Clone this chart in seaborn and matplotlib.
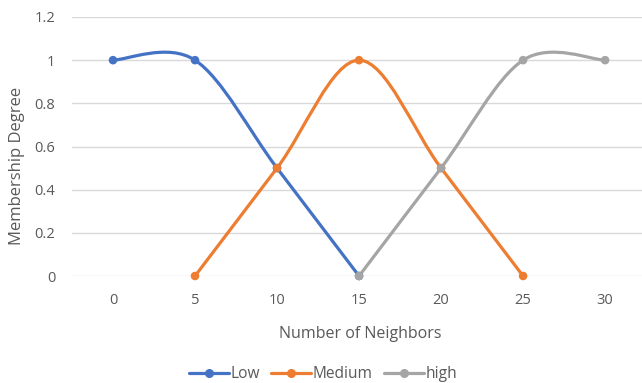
import numpy as np
import pandas as pd
import matplotlib
matplotlib.use("Agg")
import matplotlib.pyplot as plt
from matplotlib.path import Path
from matplotlib.patches import PathPatch
from matplotlib.lines import Line2D
import seaborn as sns

# ---- data ----
low_x = [0, 5, 10, 15]
low_y = [1, 1, 0.5, 0]
medium_x = [5, 10, 15, 20, 25]
medium_y = [0, 0.5, 1, 0.5, 0]
high_x = [15, 20, 25, 30]
high_y = [0, 0.5, 1, 1]
series_names = ["Low", "Medium", "high"]
x_ticks = [0, 5, 10, 15, 20, 25, 30]
y_ticks = [0, 0.2, 0.4, 0.6, 0.8, 1.0, 1.2]
y_tick_labels = ["0", "0.2", "0.4", "0.6", "0.8", "1", "1.2"]
colors = {"Low": "#4472C4", "Medium": "#ED7D31", "high": "#A5A5A5"}

df = pd.concat([
    pd.DataFrame({"x": low_x, "y": low_y, "series": "Low"}),
    pd.DataFrame({"x": medium_x, "y": medium_y, "series": "Medium"}),
    pd.DataFrame({"x": high_x, "y": high_y, "series": "high"}),
], ignore_index=True)

sns.set_theme(style="white")
plt.rcParams["font.family"] = ["Open Sans", "DejaVu Sans"]
TXT = "#595959"

fig = plt.figure(figsize=(6.42, 3.83), dpi=100)
ax = fig.add_axes([72 / 642, 1 - 276 / 383, 1 - 72 / 642, 259 / 383])


def smooth_path(xs, ys):
    pts = np.column_stack([xs, ys]).astype(float)
    n = len(pts)
    verts = [pts[0]]
    codes = [Path.MOVETO]
    for i in range(n - 1):
        p0 = pts[i - 1] if i > 0 else pts[i]
        p1 = pts[i]
        p2 = pts[i + 1]
        p3 = pts[i + 2] if i + 2 < n else pts[i + 1]
        c1 = p1 + (p2 - p0) / 6.0
        c2 = p2 - (p3 - p1) / 6.0
        verts += [c1, c2, p2]
        codes += [Path.CURVE4] * 3
    return Path(verts, codes)


for name in series_names:
    sub = df[df["series"] == name]
    patch = PathPatch(smooth_path(sub["x"].values, sub["y"].values),
                      facecolor="none", edgecolor=colors[name], lw=2.3,
                      capstyle="round", joinstyle="round", zorder=3, clip_on=False)
    ax.add_patch(patch)

sns.scatterplot(data=df, x="x", y="y", hue="series", palette=colors,
                hue_order=series_names, s=38, edgecolor="none", legend=False,
                ax=ax, zorder=4, clip_on=False)

ax.set_xlim(-2.5, 32.25)
ax.set_ylim(0, 1.2)
ax.set_xticks(x_ticks)
ax.set_xticklabels([str(v) for v in x_ticks])
ax.set_yticks(y_ticks)
ax.set_yticklabels(y_tick_labels)
ax.tick_params(axis="both", length=0, colors=TXT, labelsize=10.5)
ax.tick_params(axis="y", pad=12)
ax.tick_params(axis="x", pad=12)
ax.grid(axis="y", color="#D9D9D9", lw=1)
ax.grid(axis="x", visible=False)
for sp in ax.spines.values():
    sp.set_visible(False)

ax.set_xlabel("Number of Neighbors", color=TXT, fontsize=11.5)
ax.set_ylabel("Membership Degree", color=TXT, fontsize=12)
ax.xaxis.set_label_coords((360 - 72) / 570, (276 - 326) / 259)
ax.yaxis.set_label_coords((25 - 72) / 570, 0.5 + (146 - 165) / 259)

handles = [Line2D([0], [0], color=colors[n], lw=2.3, marker="o", markersize=5.5)
           for n in series_names]
fig.legend(handles, series_names, loc="center", bbox_to_anchor=(323 / 642, 1 - 374 / 383),
           ncol=3, frameon=False, handlelength=2.6, handletextpad=0.1, columnspacing=0.7,
           fontsize=11.2, labelcolor=TXT)

fig.savefig("out.png", dpi=100)
